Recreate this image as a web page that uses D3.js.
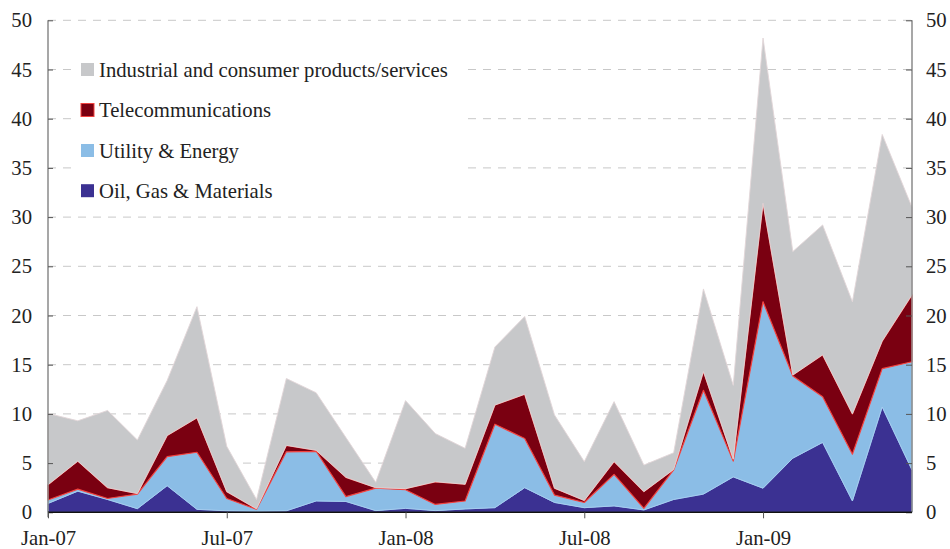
<!DOCTYPE html>
<html>
<head>
<meta charset="utf-8">
<script src="https://cdn.jsdelivr.net/npm/d3@7"></script>
<style>
  html, body { margin: 0; padding: 0; background: #fff; }
  svg { display: block; font-family: "Liberation Serif", "Times New Roman", serif; }
</style>
</head>
<body>
<svg id="chart" width="950" height="549"></svg>
<script>
// Months Jan-07 .. Jun-09
const months = ["Jan-07","Feb-07","Mar-07","Apr-07","May-07","Jun-07","Jul-07","Aug-07","Sep-07","Oct-07","Nov-07","Dec-07",
                "Jan-08","Feb-08","Mar-08","Apr-08","May-08","Jun-08","Jul-08","Aug-08","Sep-08","Oct-08","Nov-08","Dec-08",
                "Jan-09","Feb-09","Mar-09","Apr-09","May-09","Jun-09"];
const oilGasMaterials = [0.9,2.15,1.3,0.37,2.7,0.3,0.15,0.1,0.15,1.15,1.1,0.17,0.4,0.17,0.34,0.47,2.5,1.0,0.47,0.65,0.24,1.3,1.85,3.6,2.45,5.5,7.1,1.15,10.7,4.3];
const utilityEnergy   = [0.35,0.2,0.1,1.48,2.95,5.8,1.25,0.2,6.0,5.05,0.5,2.28,1.9,0.63,0.81,8.48,5.0,0.75,0.53,3.2,0.16,3.0,10.55,1.6,18.95,8.35,4.65,4.75,3.9,11.0];
const telecom         = [1.55,2.85,1.1,0.05,2.15,3.5,0.7,0.05,0.65,0.1,1.95,0.05,0.1,2.3,1.7,1.95,4.5,0.7,0.2,1.3,1.7,0.05,1.9,0.2,10.0,0.1,4.25,4.1,2.8,6.8];
const industrial      = [7.25,4.1,7.85,5.45,5.6,11.3,4.6,0.95,6.8,5.85,4.05,0.55,8.95,4.9,3.65,5.9,7.9,7.45,3.95,6.1,2.7,1.7,8.4,7.5,16.8,12.55,13.2,11.4,21.0,8.9];
const xTickIdx = [0, 6, 12, 18, 24];
const yTicks = [0,5,10,15,20,25,30,35,40,45,50];

const seriesNames = ["Oil, Gas & Materials","Utility & Energy","Telecommunications","Industrial and consumer products/services"];
const seriesKeys = ["oil","util","tel","ind"];
const fills = ["#3b3192","#8bbde6","#7a0011","#c7c8ca"];
const strokes = ["#6f95d8","#a9d0f0","#f2423f","#e2d6d8"];

const table = months.map((m,i) => ({i, oil: oilGasMaterials[i], util: utilityEnergy[i], tel: telecom[i], ind: industrial[i]}));

const svg = d3.select("#chart");
const x0 = 48, x1 = 912, yTop = 20.3, yBot = 512.3;
const x = d3.scaleLinear().domain([0, months.length-1]).range([x0, x1]);
const y = d3.scaleLinear().domain([0, 50]).range([yBot, yTop]);

// gridlines
svg.append("g").selectAll("line").data(yTicks.filter(t => t > 0)).join("line")
  .attr("x1", x0).attr("x2", x1)
  .attr("y1", d => y(d)).attr("y2", d => y(d))
  .attr("stroke", "#c8c8c8").attr("stroke-width", 1).attr("stroke-dasharray", "8,7");

// stacked areas
const stack = d3.stack().keys(seriesKeys);
const layers = stack(table);
const area = d3.area().x(d => x(d.data.i)).y0(d => y(d[0])).y1(d => y(d[1]));
svg.append("g").selectAll("path").data(layers).join("path")
  .attr("d", area)
  .attr("fill", (d,k) => fills[k])
  .attr("stroke", (d,k) => strokes[k])
  .attr("stroke-width", (d,k) => k === 2 ? 1.2 : 0.9)
  .attr("stroke-linejoin", "round");

// legend background + items
const lg = svg.append("g");
lg.append("rect").attr("x", 72).attr("y", 48).attr("width", 390).attr("height", 160).attr("fill", "#fff");
const legendOrder = [3,2,1,0];
const rowY = [69.5, 110, 150.5, 190.7];
legendOrder.forEach((k, r) => {
  lg.append("rect").attr("x", 81).attr("y", rowY[r]-6.5).attr("width", 13).attr("height", 13)
    .attr("fill", fills[k]).attr("stroke", k === 2 ? "#f2423f" : "none").attr("stroke-width", 1);
  lg.append("text").attr("x", 99).attr("y", rowY[r]).attr("dy", "0.35em")
    .attr("font-size", "20.7px").attr("fill", "#222").text(seriesNames[k]);
});

// left axis
const yAxisL = d3.axisLeft(y).tickValues(yTicks).tickSize(-5).tickPadding(16);
const gL = svg.append("g").attr("transform", `translate(${x0},0)`).call(yAxisL);
gL.select(".domain").attr("stroke", "#8a8a8a").attr("stroke-width", 1.5).attr("d", `M0,${yTop}V${yBot+5}`);
gL.selectAll(".tick line").attr("stroke", "#555");
gL.selectAll(".tick text").attr("font-size", "20.7px").attr("fill", "#222").attr("font-family", "Liberation Serif");

// right axis
const yAxisR = d3.axisRight(y).tickValues(yTicks).tickSize(-6).tickPadding(14);
const gR = svg.append("g").attr("transform", `translate(${x1},0)`).call(yAxisR);
gR.select(".domain").attr("stroke", "#8a8a8a").attr("stroke-width", 1.5).attr("d", `M0,${yTop}V${yBot}`);
gR.selectAll(".tick line").attr("stroke", "#555");
gR.selectAll(".tick text").attr("font-size", "20.7px").attr("fill", "#222").attr("font-family", "Liberation Serif");

// bottom axis
const xAxis = d3.axisBottom(x).tickValues(xTickIdx).tickFormat(i => months[i]).tickSize(6).tickPadding(12);
const gB = svg.append("g").attr("transform", `translate(0,${yBot})`).call(xAxis);
gB.select(".domain").attr("stroke", "#111").attr("stroke-width", 1.5).attr("d", `M${x0},0H${x1}`);
gB.selectAll(".tick line").attr("stroke", "#555");
gB.selectAll(".tick text").attr("font-size", "20.7px").attr("fill", "#222").attr("font-family", "Liberation Serif");
</script>
</body>
</html>
